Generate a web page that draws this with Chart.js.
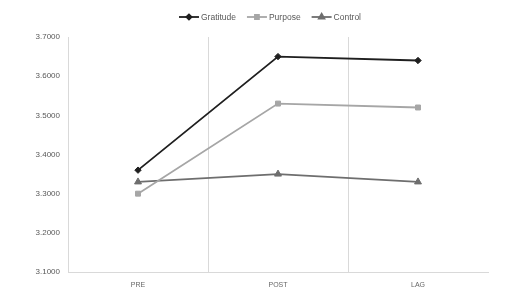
<!DOCTYPE html>
<html><head><meta charset="utf-8">
<script src="https://cdn.jsdelivr.net/npm/chart.js@4/dist/chart.umd.min.js"></script>
<style>html,body{margin:0;padding:0;background:#fff}#wrap{width:520px;height:291px;position:relative}</style>
</head><body>
<div id="wrap"><canvas id="c" width="520" height="291"></canvas></div>
<script>
const categories = ["PRE", "POST", "LAG"];
const gratitude = [3.36, 3.65, 3.64];
const purpose = [3.30, 3.53, 3.52];
const control = [3.33, 3.35, 3.33];
const yTicks = [3.1, 3.2, 3.3, 3.4, 3.5, 3.6, 3.7];

const seriesDefs = [
  {label: "Gratitude", data: gratitude, color: "#1f1f1f", style: "rectRot", r: 3.2, lw: 1.8},
  {label: "Purpose", data: purpose, color: "#a6a6a6", style: "rect", r: 3.5, lw: 1.8},
  {label: "Control", data: control, color: "#6e6e6e", style: "triangle", r: 4, lw: 1.8}
];

const legendPlugin = {
  id: "lineLegend",
  afterDraw(chart) {
    const ctx = chart.ctx;
    ctx.save();
    ctx.font = "8.5px 'Liberation Sans Narrow', 'Liberation Sans', sans-serif";
    ctx.textBaseline = "middle";
    const y = 17;
    const lineW = 20, gap = 2, itemGap = 11;
    const widths = chart.data.datasets.map(d => lineW + gap + ctx.measureText(d.label).width);
    const total = widths.reduce((a, b) => a + b, 0) + itemGap * (widths.length - 1);
    let x = 270 - total / 2;
    chart.data.datasets.forEach((d, i) => {
      ctx.strokeStyle = d.borderColor;
      ctx.fillStyle = d.borderColor;
      ctx.lineWidth = 1.8;
      ctx.beginPath(); ctx.moveTo(x, y); ctx.lineTo(x + lineW, y); ctx.stroke();
      Chart.helpers.drawPoint(ctx, {pointStyle: d.pointStyle, radius: d.pointRadius * 0.8, rotation: 0, borderWidth: 1}, x + lineW / 2, y);
      ctx.fillStyle = "#595959";
      ctx.fillText(d.label, x + lineW + gap, y + 0.5);
      x += widths[i] + itemGap;
    });
    ctx.restore();
  }
};

new Chart(document.getElementById("c"), {
  type: "line",
  data: {
    labels: categories,
    datasets: seriesDefs.map(s => ({
      label: s.label, data: s.data,
      borderColor: s.color, backgroundColor: s.color,
      pointStyle: s.style, pointRadius: s.r, pointBorderWidth: 1,
      pointBackgroundColor: s.color, pointBorderColor: s.color,
      borderWidth: s.lw, tension: 0, fill: false
    }))
  },
  options: {
    responsive: false, animation: false,
    layout: {padding: {top: 37, right: 32, bottom: 0, left: 0}},
    plugins: {legend: {display: false}, tooltip: {enabled: false}},
    scales: {
      x: {
        offset: true,
        grid: {offset: true, drawTicks: false,
          color: (c) => (c.type === "tick" ? "#d9d9d9" : "rgba(0,0,0,0)"), lineWidth: 1},
        border: {display: true, color: "#d9d9d9"},
        ticks: {padding: 9, color: "#666666", font: {family: "'Liberation Sans', sans-serif", size: 7}},
        afterFit(s) { s.height = 19; }
      },
      y: {
        min: 3.1, max: 3.7,
        afterBuildTicks(s) { s.ticks = yTicks.map(v => ({value: v})); },
        grid: {display: false, drawTicks: false},
        border: {display: true, color: "#d9d9d9"},
        ticks: {padding: 8, color: "#595959", font: {family: "'Liberation Sans', sans-serif", size: 8},
          callback: v => Number(v).toFixed(4)},
        afterFit(s) { s.width = 68; }
      }
    }
  },
  plugins: [legendPlugin]
});
</script>
</body></html>
